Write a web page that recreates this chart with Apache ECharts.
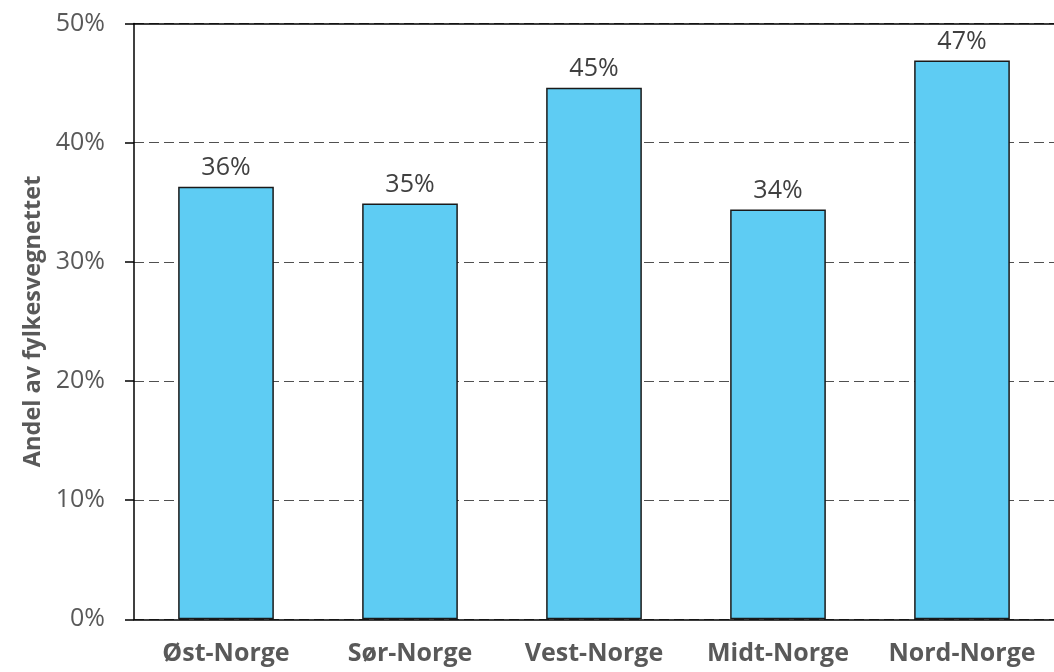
<!DOCTYPE html>
<html>
<head>
<meta charset="utf-8">
<script src="https://cdn.jsdelivr.net/npm/echarts@6/dist/echarts.min.js"></script>
<style>html,body{margin:0;padding:0;background:#fff}#c{width:1054px;height:672px}</style>
</head>
<body>
<div id="c"></div>
<script>
const categories = ['Øst-Norge', 'Sør-Norge', 'Vest-Norge', 'Midt-Norge', 'Nord-Norge'];
const shares = [36.3, 34.9, 44.6, 34.4, 46.9];
const yTicks = [0, 10, 20, 30, 40, 50];
const yTitle = 'Andel av fylkesvegnettet';

const chart = echarts.init(document.getElementById('c'), null, {renderer: 'canvas'});
chart.setOption({
  animation: false,
  backgroundColor: '#fff',
  grid: {left: 134, right: 0, top: 23.5, bottom: 52.7},
  xAxis: [{
    type: 'category',
    data: categories,
    axisLine: {lineStyle: {color: '#000', width: 1.5}},
    axisTick: {show: false},
    axisLabel: {interval: 0, hideOverlap: false, color: '#595959', fontSize: 25, fontWeight: 'bold', fontFamily: '"Open Sans", sans-serif', margin: 22}
  }, {
    type: 'category',
    position: 'top',
    data: categories,
    axisLine: {show: true, lineStyle: {color: '#000', width: 1.5}},
    axisTick: {show: false},
    axisLabel: {show: false}
  }],
  yAxis: {
    type: 'value',
    min: yTicks[0],
    max: yTicks[yTicks.length - 1],
    interval: 10,
    name: yTitle,
    nameLocation: 'middle',
    nameGap: 87,
    nameTextStyle: {color: '#595959', fontSize: 23.5, fontWeight: 'bold', fontFamily: '"Open Sans", sans-serif'},
    axisLine: {show: true, lineStyle: {color: '#000', width: 1.5}},
    axisTick: {show: true, length: 9, lineStyle: {color: '#000', width: 1.5}},
    axisLabel: {color: '#595959', fontSize: 25, fontFamily: '"Open Sans", sans-serif', margin: 29, formatter: v => v + '%'},
    splitLine: {show: true, lineStyle: {color: '#505050', type: [10, 5], width: 1}}
  },
  series: [{
    type: 'bar',
    xAxisIndex: 0,
    data: shares,
    barWidth: '52%',
    itemStyle: {color: '#5ECCF3', borderColor: '#1a1a1a', borderWidth: 1.5},
    label: {
      show: true, position: 'top', distance: 6,
      color: '#404040', fontSize: 25, fontFamily: '"Open Sans", sans-serif',
      formatter: p => Math.round(p.value) + '%'
    }
  }]
});
</script>
</body>
</html>
